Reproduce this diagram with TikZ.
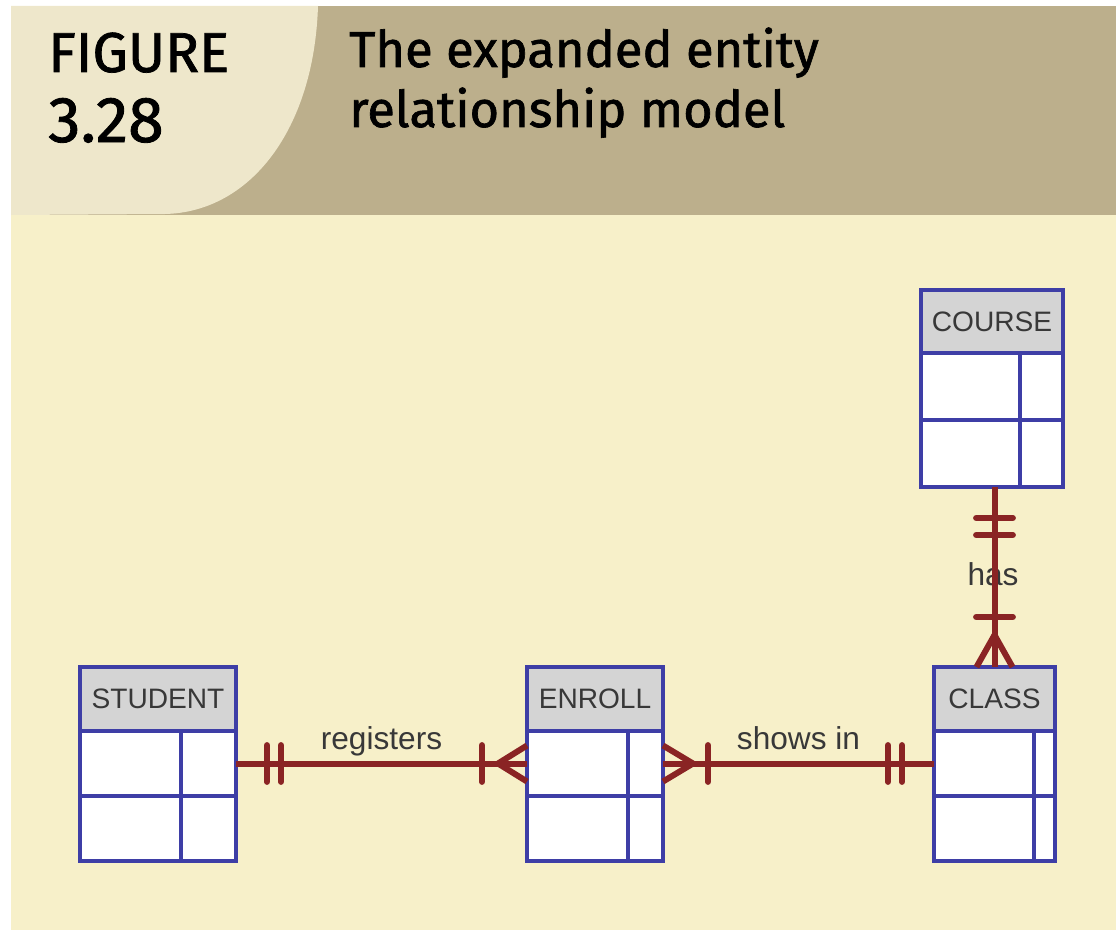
\documentclass[tikz,border=0pt]{standalone}
\usepackage{fontspec}
\setmainfont{Liberation Sans}
\newfontfamily\titlefont[FakeBold=1.3]{Fira Sans}
\usepackage{xcolor}
\usetikzlibrary{positioning,decorations.markings}

\definecolor{bodycream}{HTML}{F7F0C9}
\definecolor{headtan}{HTML}{BCAF8C}
\definecolor{headlight}{HTML}{EEE7CB}
\definecolor{entblue}{HTML}{3E3EA6}
\definecolor{hdrgray}{HTML}{D4D4D4}
\definecolor{relred}{HTML}{8A2424}
\definecolor{labgray}{HTML}{383838}

\begin{document}
\begin{tikzpicture}[x=0.25mm, y=-0.25mm,
  ent/.style={draw=entblue, line width=1mm, fill=white, inner sep=0pt, outer sep=0pt, minimum height=16.25mm},
  enthead/.style={ent, fill=hdrgray, minimum height=16mm, text=labgray, font=\fontsize{20}{20}\selectfont},
  divider/.style={draw=entblue, line width=1mm},
  rel/.style={draw=relred, line width=1.5mm},
  rellabel/.style={text=labgray, text depth=0.21em, font=\fontsize{22.5}{22.5}\selectfont},
  bar at/.style={postaction={decorate, decoration={markings,
      mark=at position #1 with {\draw[rel, line cap=round] (0,-4.6mm) -- (0,4.6mm);}}}},
  crow end/.style={postaction={decorate, decoration={markings,
      mark=at position -#1 with {\draw[rel] (#1,4.5mm) -- (0,0) -- (#1,-4.5mm);}}}},
  crow start/.style={postaction={decorate, decoration={markings,
      mark=at position #1 with {\draw[rel] (-#1,4.5mm) -- (0,0) -- (-#1,-4.5mm);}}}}]
\useasboundingbox (0,0) rectangle (1116,930);
% panel and header band
\fill[bodycream] (11,6) rectangle (1116,930);
\fill[headtan] (11,6) rectangle (1116,215);
\fill[headlight] (11,6) -- (318,6) .. controls (314,130) and (250,212) .. (165,214) -- (11,215) -- cycle;
\node[anchor=base west, inner sep=0pt, font=\titlefont\fontsize{40}{40}\selectfont] (fig) at (48,72) {FIGURE};
\node[anchor=base west, inner sep=0pt, font=\titlefont\fontsize{46}{46}\selectfont] (fignum) at (48,142) {3.28};
\node[anchor=base west, inner sep=0pt, font=\titlefont\fontsize{36}{36}\selectfont] (title1) at (349,67) {The expanded entity};
\node[anchor=base west, inner sep=0pt, font=\titlefont\fontsize{36}{36}\selectfont] (title2) at (349,127) {relationship model};

% entities
\node[enthead, minimum width=39mm] (student) at (158,699) {STUDENT};
\node[ent, minimum width=39mm, below=0pt of student] (student-r1) {};
\node[ent, minimum width=39mm, below=0pt of student-r1] (student-r2) {};
\draw[divider] ([xshift=-13.75mm]student-r1.north east) -- ([xshift=-13.75mm]student-r2.south east);

\node[enthead, minimum width=34mm] (enroll) at (595,699) {ENROLL};
\node[ent, minimum width=34mm, below=0pt of enroll] (enroll-r1) {};
\node[ent, minimum width=34mm, below=0pt of enroll-r1] (enroll-r2) {};
\draw[divider] ([xshift=-8.75mm]enroll-r1.north east) -- ([xshift=-8.75mm]enroll-r2.south east);

\node[enthead, minimum width=30.25mm] (class) at (994.5,699) {CLASS};
\node[ent, minimum width=30.25mm, below=0pt of class] (class-r1) {};
\node[ent, minimum width=30.25mm, below=0pt of class-r1] (class-r2) {};
\draw[divider] ([xshift=-5.25mm]class-r1.north east) -- ([xshift=-5.25mm]class-r2.south east);

\node[enthead, minimum width=35.5mm, minimum height=15.75mm] (course) at (992,321.5) {COURSE};
\node[ent, minimum width=35.5mm, minimum height=16.75mm, below=0pt of course] (course-r1) {};
\node[ent, minimum width=35.5mm, minimum height=16.75mm, below=0pt of course-r1] (course-r2) {};
\draw[divider] ([xshift=-10.75mm]course-r1.north east) -- ([xshift=-10.75mm]course-r2.south east);

% relationships
\node[rellabel, anchor=base] (has) at (993,585) {has};
\draw[rel, bar at=7.75mm, bar at=11.25mm, bar at=-11.25mm, crow end=7.25mm]
  (student-r1.east) -- (enroll-r1.west) node[rellabel, midway, above=2.5pt] (registers) {registers};
\draw[rel, crow start=7.5mm, bar at=11.25mm, bar at=-11.5mm, bar at=-8mm]
  (enroll-r1.east) -- (class-r1.west) node[rellabel, midway, above=2.5pt] (showsin) {shows in};
\draw[rel, bar at=7.75mm, bar at=12mm, bar at=-12.5mm, crow end=8mm]
  (course-r2.south -| class.north) -- (class.north);
\end{tikzpicture}
\end{document}
